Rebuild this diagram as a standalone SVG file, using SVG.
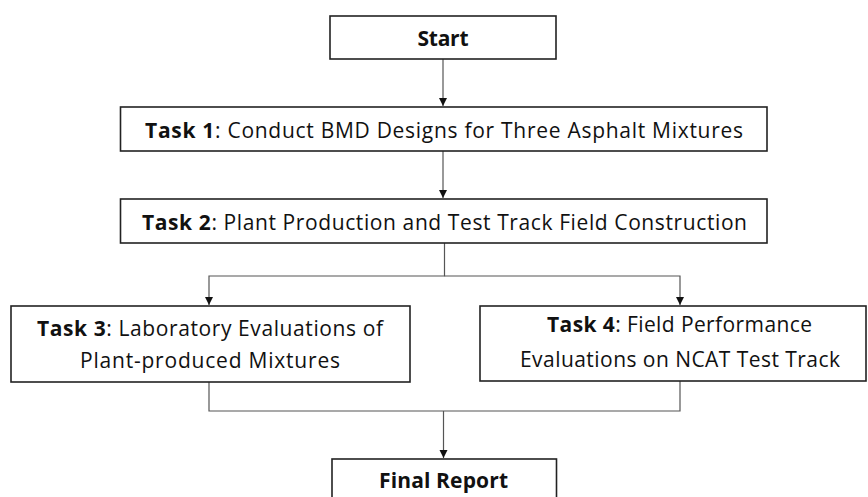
<svg xmlns="http://www.w3.org/2000/svg" width="868" height="497" viewBox="0 0 868 497">
<style>
.box{fill:#fff;stroke:#222;stroke-width:1.6}
.t{font-family:"Open Sans","Noto Sans","Liberation Sans",sans-serif;font-size:21px;fill:#111;text-anchor:middle}
.b{font-weight:bold}
.c{fill:none;stroke:#555;stroke-width:1.2}
</style>
<defs>
<marker id="ah" viewBox="0 0 10 10" refX="10" refY="5" markerWidth="8" markerHeight="10" markerUnits="userSpaceOnUse" orient="auto">
<path d="M0,0 L10,5 L0,10 z" fill="#111"/>
</marker>
</defs>
<rect width="868" height="497" fill="#fff"/>
<g id="connectors">
<line class="c" x1="443" y1="59" x2="443" y2="106" marker-end="url(#ah)"/>
<line class="c" x1="443" y1="151" x2="443" y2="198" marker-end="url(#ah)"/>
<polyline class="c" points="444.5,243 444.5,276 209,276 209,305" marker-end="url(#ah)"/>
<polyline class="c" points="444.5,276 680,276 680,305" marker-end="url(#ah)"/>
<polyline class="c" points="209,382 209,411 680,411 680,381"/>
<line class="c" x1="443.5" y1="411" x2="443.5" y2="458" marker-end="url(#ah)"/>
</g>
<g id="start">
<rect class="box" x="330" y="16" width="226" height="43"/>
<text class="t b" x="443" y="46" textLength="51">Start</text>
</g>
<g id="task1">
<rect class="box" x="120.5" y="107" width="646.5" height="44"/>
<text class="t" x="444" y="138" textLength="598"><tspan class="b">Task 1</tspan>: Conduct BMD Designs for Three Asphalt Mixtures</text>
</g>
<g id="task2">
<rect class="box" x="120.5" y="199" width="646.5" height="44"/>
<text class="t" x="444.5" y="230" textLength="605"><tspan class="b">Task 2</tspan>: Plant Production and Test Track Field Construction</text>
</g>
<g id="task3">
<rect class="box" x="11" y="306" width="399" height="76"/>
<text class="t" x="210" y="336" textLength="346"><tspan class="b">Task 3</tspan>: Laboratory Evaluations of</text>
<text class="t" x="210" y="368" textLength="260">Plant-produced Mixtures</text>
</g>
<g id="task4">
<rect class="box" x="480" y="306" width="386" height="75"/>
<text class="t" x="679.5" y="332" textLength="265"><tspan class="b">Task 4</tspan>: Field Performance</text>
<text class="t" x="680" y="367" textLength="320">Evaluations on NCAT Test Track</text>
</g>
<g id="final">
<rect class="box" x="332" y="459" width="224.5" height="50"/>
<text class="t b" x="443.5" y="488" textLength="129">Final Report</text>
</g>
</svg>
